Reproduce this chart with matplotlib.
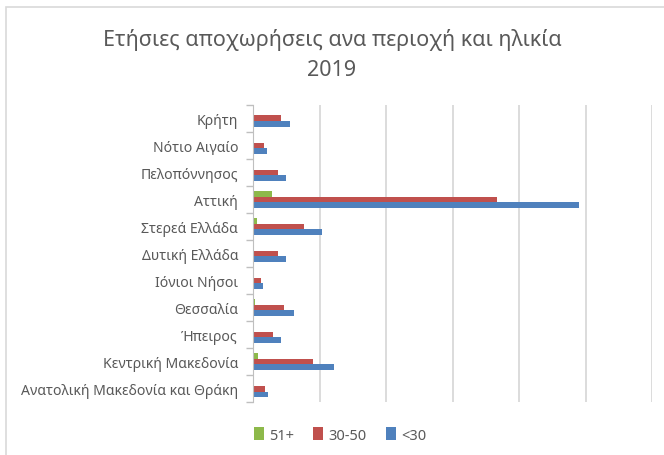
import matplotlib
matplotlib.use("Agg")
import matplotlib.pyplot as plt
import numpy as np
from matplotlib.patches import Rectangle

plt.rcParams['font.family'] = ['Noto Sans', 'DejaVu Sans']

# categories listed bottom -> top (as drawn by matplotlib)
regions = ["Ανατολική Μακεδονία και Θράκη", "Κεντρική Μακεδονία", "Ήπειρος",
           "Θεσσαλία", "Ιόνιοι Νήσοι", "Δυτική Ελλάδα", "Στερεά Ελλάδα",
           "Αττική", "Πελοπόννησος", "Νότιο Αιγαίο", "Κρήτη"]
age_51 = [0, 140, 20, 60, 0, 20, 110, 570, 20, 0, 30]
age_30_50 = [340, 1810, 600, 910, 220, 730, 1530, 7330, 730, 320, 830]
age_u30 = [450, 2430, 830, 1220, 290, 990, 2070, 9800, 990, 420, 1110]
series_names = ["51+", "30-50", "<30"]
colors = ["#8DB94A", "#C0504D", "#4F81BD"]

text_col = "#595959"

fig = plt.figure(figsize=(6.64, 4.56), dpi=100)
fig.patches.append(Rectangle((6 / 664, -0.1), 1.2, 1 - 8 / 456 + 0.1,
                             transform=fig.transFigure, fill=False,
                             edgecolor="#D9D9D9", linewidth=1.2))

ax = fig.add_axes([253.3 / 664, 1 - 403.3 / 456, 399 / 664, 297.6 / 456])
y = np.arange(len(regions))
h = 0.205
bars = []
for off, vals, c, name in zip([h, 0, -h], [age_51, age_30_50, age_u30], colors, series_names):
    bars.append(ax.barh(y + off, vals, height=h, color=c, label=name))

ax.set_xlim(0, 12000)
ax.set_ylim(-0.5, len(regions) - 0.5)
ax.set_xticks(np.arange(2000, 12001, 2000))
ax.tick_params(axis='x', length=0, labelbottom=False)
ax.xaxis.grid(True, color="#D9D9D9", linewidth=1.3)
ax.set_axisbelow(True)

ax.set_yticks(y)
ax.set_yticklabels(regions, fontsize=10.1, color=text_col)
ax.tick_params(axis='y', which='major', length=0, pad=11)
ax.set_yticks(np.arange(-0.5, len(regions), 1), minor=True)
ax.tick_params(axis='y', which='minor', length=5, color="#BFBFBF", width=1)

for s in ["top", "right", "bottom"]:
    ax.spines[s].set_visible(False)
ax.spines["left"].set_color("#BFBFBF")

fig.text(0.5, 1 - 40 / 456, "Ετήσιες αποχωρήσεις ανα περιοχή και ηλικία",
         ha="center", va="center", fontsize=15.5, color=text_col)
fig.text(0.5, 1 - 70 / 456, "2019", ha="center", va="center",
         fontsize=15.5, color=text_col)

fig.legend(handles=bars, labels=series_names, loc="center",
           bbox_to_anchor=(340 / 664, 1 - 436 / 456), ncol=3, frameon=False,
           fontsize=10.5, labelcolor=text_col, handlelength=0.7, handleheight=0.9,
           handletextpad=0.35, columnspacing=1.3)

fig.savefig("out.png", dpi=100)
